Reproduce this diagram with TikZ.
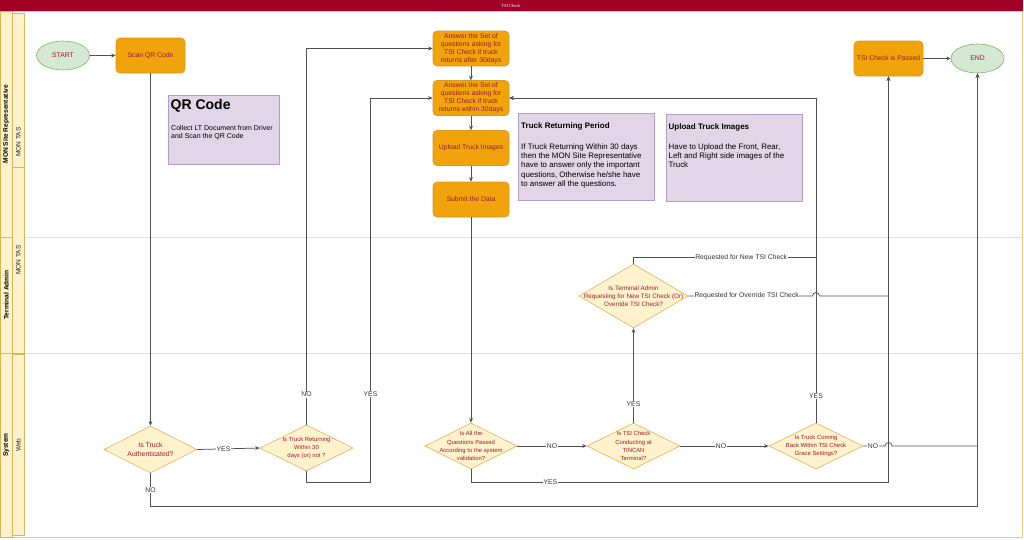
\documentclass[tikz,border=0pt]{standalone}
\usepackage{fontspec}
\setmainfont{Liberation Sans}
\newfontfamily\titlefont{Liberation Serif}
\usetikzlibrary{shapes.geometric,arrows.meta}
\definecolor{crim}{HTML}{A20025}
\definecolor{lanefill}{HTML}{FFF2CC}
\definecolor{lanedraw}{HTML}{D6B656}
\definecolor{sepcol}{HTML}{EDE0B4}
\definecolor{grfill}{HTML}{D5E8D4}
\definecolor{grdraw}{HTML}{82B366}
\definecolor{orfill}{HTML}{F0A30A}
\definecolor{ordraw}{HTML}{D99A20}
\definecolor{nofill}{HTML}{E1D5E7}
\definecolor{nodraw}{HTML}{B49CC4}
\definecolor{redtxt}{HTML}{9A1C2C}
\definecolor{linecol}{HTML}{505050}
\definecolor{lbltxt}{HTML}{333333}
\tikzset{
  lanehdr/.style={fill=lanefill, draw=lanedraw, line width=0.5pt},
  sepline/.style={draw=sepcol, line width=0.8pt},
  term/.style={ellipse, fill=grfill, draw=grdraw, line width=0.6pt, minimum width=53pt, minimum height=29pt, inner sep=0pt, text=redtxt, font=\fontsize{6.8}{8}\selectfont},
  proc/.style={rectangle, rounded corners=4pt, fill=orfill, draw=ordraw, line width=0.6pt, minimum width=76pt, minimum height=35pt, inner sep=0pt, align=center, text=redtxt, font=\fontsize{6.8}{8.1}\selectfont},
  dia/.style={diamond, fill=lanefill, draw=lanedraw, line width=0.6pt, inner sep=0pt},
  dtxt/.style={align=center, text=redtxt, font=\fontsize{5.9}{8.1}\selectfont},
  notebox/.style={rectangle, fill=nofill, draw=nodraw, line width=0.7pt, inner sep=0pt, anchor=north west},
  notetxt/.style={anchor=north west, inner sep=0pt, align=left, text=black},
  conn/.style={draw=linecol, line width=0.75pt, -{Stealth[length=4.5pt,width=3.8pt]}},
  lbl/.style={fill=white, inner sep=0.6pt, text=lbltxt, font=\fontsize{6.8}{8}\selectfont},
  hdrtxt/.style={rotate=90, font=\fontsize{6.6}{7}\selectfont\bfseries, text=black},
  subtxt/.style={rotate=90, font=\fontsize{6.5}{7}\selectfont, text=black!85}
}
\begin{document}
\begin{tikzpicture}[x=1pt,y=-1pt]
\useasboundingbox (0,0) rectangle (1024,539);
\fill[white] (0,0) rectangle (1024,539);
% pool frame
\draw[lanedraw!70, line width=0.7pt] (0.5,11) rectangle (1022.5,537.5);
% title bar
\fill[crim] (0,0) rectangle (1023,11);
\node[text=white, font=\titlefont\fontsize{4.5}{5}\selectfont] (title) at (511,6) {TSI Check};
% outer lane headers
\draw[lanehdr] (0.5,11.5) rectangle (12,237);
\draw[lanehdr] (0.5,237) rectangle (12,353);
\draw[lanehdr] (0.5,353) rectangle (12,537);
% inner lane headers
\draw[lanehdr] (12,13) rectangle (24.5,167);
\draw[lanehdr] (12,167) rectangle (24.5,353);
\draw[lanehdr] (12,354) rectangle (24.5,535.5);
\node[hdrtxt] (h1) at (6.2,124) {MON Site Representative};
\node[hdrtxt] (h2) at (6.2,295) {Terminal Admin};
\node[hdrtxt] (h3) at (6.2,445) {System};
\node[subtxt] (s1) at (18.3,142) {MON TAS};
\node[subtxt] (s2) at (18.3,260) {MON TAS};
\node[subtxt] (s3) at (18.3,445) {Web};
% lane separators in content
\draw[sepline] (24.5,237) -- (1022,237);
\draw[sepline] (24.5,353) -- (1022,353);

% process nodes
\node[term] (st) at (63,55.5) {START};
\node[proc, minimum width=69pt] (qr) at (150.5,55.5) {Scan QR Code};
\node[proc] (a1) at (471,48.5) {Answer the Set of\\questions asking for\\TSI Check if truck\\returns after 30days};
\node[proc] (a2) at (471,98) {Answer the Set of\\questions asking for\\TSI Check if truck\\returns within 30days};
\node[proc] (up) at (471,148) {Upload Truck Images};
\node[proc] (sd) at (471,199.5) {Submit the Data};
\node[proc, minimum width=69pt] (tp) at (888.5,58.5) {TSI Check is Passed};
\node[term] (en) at (977.5,58.5) {END};

% notes
\node[notebox, minimum width=111pt, minimum height=69pt] (nqr) at (167.5,95) {};
\node[notetxt, font=\fontsize{14}{16}\selectfont\bfseries] (nqrT) at (170.5,99.5) {QR Code};
\node[notetxt, font=\fontsize{7}{8.3}\selectfont] (nqrB) at (171,125) {Collect LT Document from Driver\\and Scan the QR Code};
\node[notebox, minimum width=136.5pt, minimum height=86.5pt] (ntr) at (517.5,113) {};
\node[notetxt, font=\fontsize{8}{9}\selectfont\bfseries] (ntrT) at (521,122.5) {Truck Returning Period};
\node[notetxt, font=\fontsize{7.9}{9.25}\selectfont] (ntrB) at (521,143.5) {If Truck Returning Within 30 days\\then the MON Site Representative\\have to answer only the important\\questions, Otherwise he/she have\\to answer all the questions.};
\node[notebox, minimum width=136.5pt, minimum height=87.5pt] (nup) at (665.5,113.5) {};
\node[notetxt, font=\fontsize{8}{9}\selectfont\bfseries] (nupT) at (668.5,123.5) {Upload Truck Images};
\node[notetxt, font=\fontsize{7.9}{9.1}\selectfont] (nupB) at (668.5,143.5) {Have to Upload the Front, Rear,\\Left and Right side images of the\\Truck};

% decision nodes
\node[dia, minimum width=93pt, minimum height=47pt, label={[dtxt, font=\fontsize{6.9}{8.3}\selectfont]center:{Is Truck\\Authenticated?}}] (au) at (150.5,449.5) {};
\node[dia, minimum width=93pt, minimum height=46pt, label={[dtxt]center:{Is Truck Returning\\Within 30\\days (or) not ?}}] (tr) at (306.5,448) {};
\node[dia, minimum width=92pt, minimum height=46pt, label={[dtxt]center:{Is All the\\Questions Passed\\According to the system\\validation?}}] (aq) at (471,446) {};
\node[dia, minimum width=93pt, minimum height=46pt, label={[dtxt]center:{Is TSI Check\\Conducting at\\TINCAN\\Terminal?}}] (tc) at (633.5,446) {};
\node[dia, minimum width=94pt, minimum height=46pt, label={[dtxt]center:{Is Truck Coming\\Back Within TSI Check\\Grace Settings?}}] (cb) at (816,446) {};
\node[dia, minimum width=109pt, minimum height=64pt, label={[dtxt, font=\fontsize{6.3}{8}\selectfont]center:{Is Terminal Admin\\Requesting for New TSI Check (Or)\\Override TSI Check?}}] (td) at (633.5,296) {};

% connectors
\draw[conn] (st) -- (qr);
\draw[conn] (qr) -- (au);
\draw[conn] (au.east) -- node[lbl, pos=0.42]{YES} (tr.west);
\draw[conn] (au.south) -- node[lbl]{NO} (au.south |- 0,506) -- (en.south |- 0,506) -- (en.south);
\draw[conn] (tr.north) -- node[lbl, pos=0.08]{NO} (tr.north |- a1.west) -- (a1.west);
\draw[conn] (tr.south) -- (306.5,482.5) -- (370.5,482.5) -- node[lbl, pos=0.23]{YES} (370.5,98) -- (a2.west);
\draw[conn] (a1) -- (a2);
\draw[conn] (a2) -- (up);
\draw[conn] (up) -- (sd);
\draw[conn] (sd) -- (aq);
\draw[conn] (aq.east) -- node[lbl]{NO} (tc.west);
\draw[conn] (aq.south) -- (471,482.5) -- node[lbl, pos=0.19]{YES} (888.5,482.5) -- (tp.south);
\draw[conn] (tc.north) -- node[lbl, pos=0.2]{YES} (td.south);
\draw[conn] (tc.east) -- node[lbl, pos=0.46]{NO} (cb.west);
\draw[conn] (cb.north) -- node[lbl, pos=0.083]{YES} (cb.north |- a2.east) -- (a2.east);
\draw[conn] (td.north) -- (633.5,257.5) -- node[lbl, pos=0.59]{Requested for New TSI Check} (816,257.5) -- (816,98) -- (a2.east);
\draw[conn] (td.east) -- node[lbl, pos=0.47]{Requested for Override TSI Check} (812.5,296) .. controls (812.5,291.3) and (819.5,291.3) .. (819.5,296) -- (888.5,296) -- (tp.south);
\draw[conn] (cb.east) -- node[lbl, pos=0.45]{NO} (885,446) .. controls (885,441.3) and (892,441.3) .. (892,446) -- (977.5,446) -- (en.south);
\draw[conn] (tp) -- (en);
\end{tikzpicture}
\end{document}
